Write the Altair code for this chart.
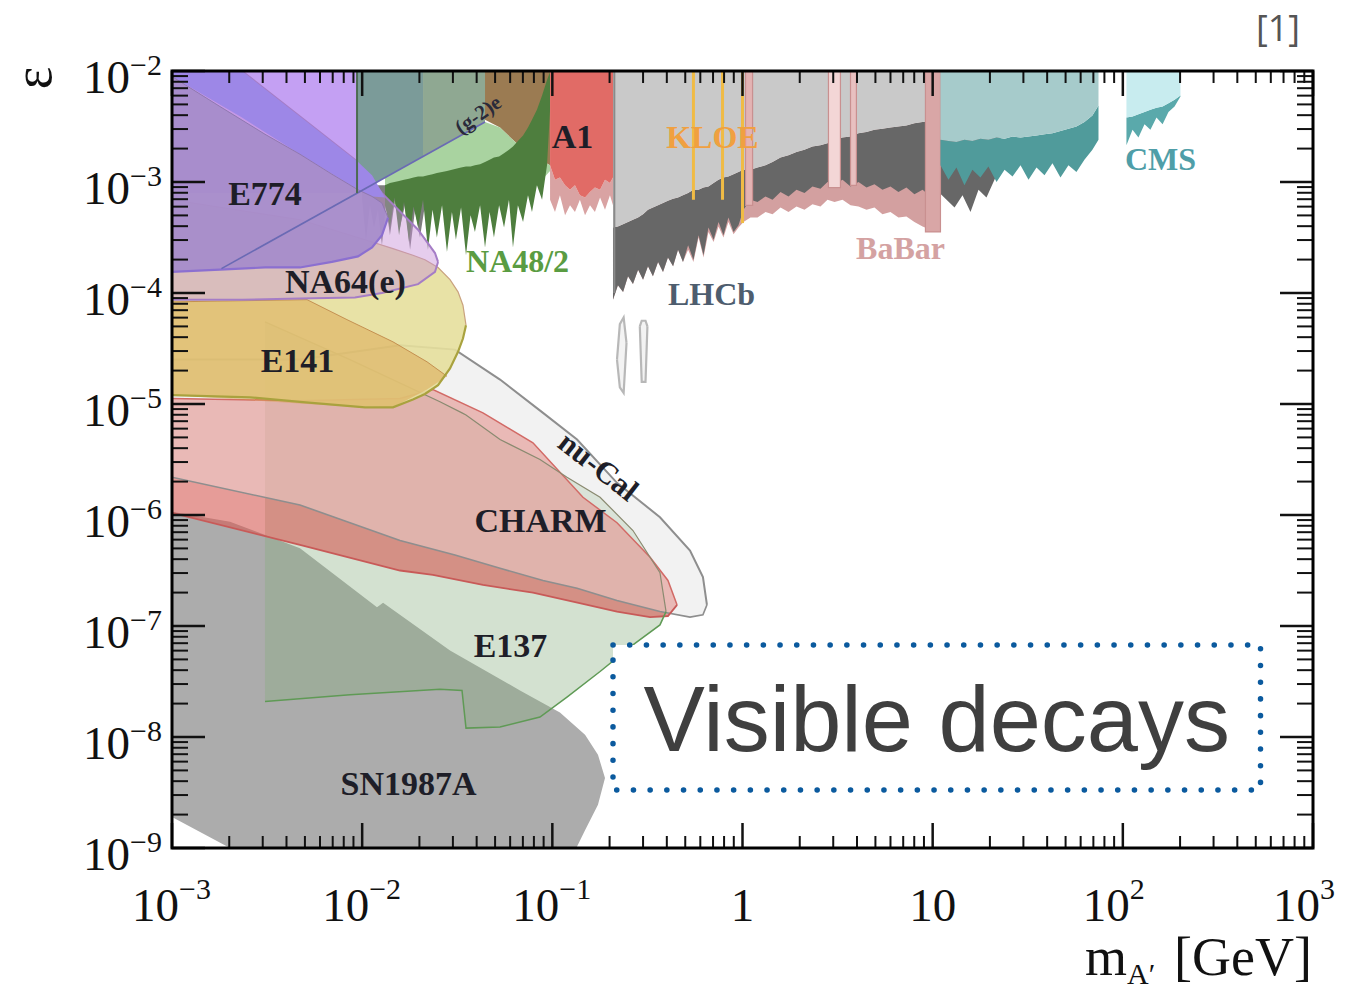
import numpy as np
import pandas as pd
import altair as alt

W, H = 1141, 777
SERIF = "Liberation Serif"

xs = alt.Scale(type="log", domain=[1e-3, 1e3], nice=False)
ys = alt.Scale(type="log", domain=[1e-9, 1e-2], nice=False)

# ---------------- data (log10 m [GeV], log10 eps) ----------------
V_x = [-3.0, -2.02]; V_hi = [-1.9, -1.9]; V_lo = [-3.1, -3.1]
TG1_x = [-2.027, -1.680]; TG1_hi = [-1.9, -1.9]; TG1_lo = [-3.10, -2.77]
TG2_x = [-1.680, -1.354]; TG2_hi = [-1.9, -1.9]; TG2_lo = [-2.77, -2.46]
BR_x = [-1.354, -1.275, -1.170, -1.065, -1.012]
BR_hi = [-1.9, -1.9, -1.9, -1.9, -1.9]
BR_lo = [-2.44, -2.51, -2.68, -2.80, -2.85]
LG_x = [-1.88, -1.354, -1.275, -1.170, -1.065, -1.012]
LG_hi = [-2.96, -2.46, -2.51, -2.68, -2.80, -2.85]
LG_lo = [-3.2, -3.2, -3.2, -3.1, -3.0, -2.9]

GS_x = [-2.000, -1.980, -1.959, -1.938, -1.917, -1.896, -1.875, -1.854, -1.827, -1.801, -1.775, -1.748, -1.722, -1.696, -1.670, -1.643]
GS_hi = [-3.03, -3.03, -3.03, -3.03, -3.03, -3.03, -3.03, -3.03, -3.03, -3.03, -3.03, -3.03, -3.03, -3.03, -3.03, -3.03]
GS_lo = [-3.16, -3.52, -3.21, -3.41, -3.25, -3.57, -3.21, -3.48, -3.16, -3.41, -3.21, -3.61, -3.25, -3.50, -3.21, -3.45]

NA_x = [-1.880, -1.854, -1.830, -1.806, -1.780, -1.754, -1.730, -1.706, -1.680, -1.654, -1.630, -1.607, -1.580, -1.554, -1.528, -1.507, -1.480, -1.454,
        -1.430, -1.407, -1.380, -1.354, -1.330, -1.307, -1.280, -1.254, -1.228, -1.207, -1.181, -1.154, -1.128, -1.107, -1.081, -1.054, -1.028, -1.012]
NA_hi = [-3.03, -3.01, -3.00, -2.99, -2.98, -2.97, -2.96, -2.95, -2.95, -2.94, -2.93, -2.92, -2.91, -2.90, -2.89, -2.88, -2.87, -2.86,
         -2.86, -2.85, -2.84, -2.82, -2.80, -2.78, -2.77, -2.74, -2.71, -2.68, -2.63, -2.58, -2.51, -2.44, -2.35, -2.22, -2.08, -2.01]
NA_lo = [-3.21, -3.41, -3.14, -3.48, -3.18, -3.54, -3.22, -3.41, -3.16, -3.61, -3.25, -3.50, -3.21, -3.63, -3.27, -3.52, -3.23, -3.66,
         -3.30, -3.45, -3.21, -3.59, -3.27, -3.50, -3.21, -3.41, -3.16, -3.59, -3.21, -3.36, -3.12, -3.27, -3.03, -3.16, -2.85, -2.35]

A1_x = [-1.012, -0.986, -0.960, -0.933, -0.907, -0.881, -0.855, -0.828, -0.802, -0.776, -0.749, -0.723, -0.697, -0.681]
A1_lo = [-2.85, -2.98, -2.96, -3.03, -3.07, -3.03, -3.12, -3.14, -3.09, -3.05, -3.07, -2.98, -3.01, -2.96]
A1_pk = [-3.16, -3.27, -3.12, -3.30, -3.21, -3.27, -3.16, -3.30, -3.21, -3.27, -3.14, -3.25, -3.12, -3.21]

LH_x = [-0.681, -0.655, -0.628, -0.602, -0.576, -0.549, -0.523, -0.497, -0.471, -0.444, -0.418, -0.392, -0.365, -0.339, -0.313, -0.286,
        -0.258, -0.231, -0.205, -0.179, -0.152, -0.126, -0.100, -0.074, -0.047, -0.021, 0.005, 0.042, 0.079, 0.121, 0.158, 0.200,
        0.242, 0.284, 0.326, 0.368, 0.410, 0.447, 0.484, 0.526, 0.568, 0.610, 0.652, 0.694, 0.736, 0.778, 0.820, 0.862, 0.904, 0.947, 0.989, 1.031]
LH_top = [-3.41, -3.40, -3.38, -3.36, -3.34, -3.32, -3.29, -3.25, -3.23, -3.21, -3.19, -3.17, -3.15, -3.14, -3.12, -3.10,
          -3.07, -3.07, -3.05, -3.04, -3.01, -2.98, -2.96, -2.95, -2.93, -2.91, -2.89, -2.89, -2.87, -2.85, -2.82, -2.78,
          -2.76, -2.73, -2.71, -2.68, -2.67, -2.65, -2.62, -2.60, -2.59, -2.56, -2.55, -2.53, -2.52, -2.51, -2.50, -2.49, -2.47, -2.46, -2.45, -2.44]
LH_dark = [-4.06, -3.93, -3.99, -3.85, -3.92, -3.79, -3.88, -3.76, -3.85, -3.72, -3.81, -3.68, -3.76, -3.61, -3.72, -3.57,
           -3.70, -3.48, -3.66, -3.41, -3.52, -3.36, -3.48, -3.32, -3.45, -3.39, -3.25, -3.16, -3.18, -3.13, -3.16, -3.09,
           -3.13, -3.07, -3.10, -3.04, -3.06, -3.00, -3.02, -2.98, -3.04, -3.00, -3.05, -3.02, -3.07, -3.04, -3.09, -3.05, -3.11, -3.07, -3.13, -3.09]
BB_lo = [-4.06, -3.93, -3.99, -3.85, -3.92, -3.79, -3.88, -3.76, -3.85, -3.72, -3.81, -3.68, -3.76, -3.61, -3.72, -3.61,
         -3.72, -3.50, -3.68, -3.45, -3.54, -3.40, -3.50, -3.36, -3.47, -3.41, -3.36, -3.32, -3.32, -3.27, -3.29, -3.23,
         -3.27, -3.22, -3.25, -3.20, -3.22, -3.16, -3.18, -3.16, -3.21, -3.22, -3.25, -3.23, -3.29, -3.27, -3.32, -3.31, -3.36, -3.40, -3.43, -3.45]
LH2_x = [1.031, 1.073, 1.115, 1.157, 1.199, 1.241, 1.283, 1.325, 1.357]
LH2_hi = [-2.44, -2.44, -2.44, -2.44, -2.44, -2.44, -2.44, -2.44, -2.44]
LH2_lo = [-3.09, -3.16, -3.23, -3.12, -3.27, -3.07, -3.14, -2.98, -2.85]

TL_x = [1.041, 1.083, 1.125, 1.167, 1.209, 1.251, 1.293, 1.336, 1.378, 1.420, 1.462, 1.504, 1.546, 1.588, 1.630, 1.672, 1.714, 1.756, 1.798, 1.840, 1.872]
TL_light = [-2.62, -2.63, -2.64, -2.62, -2.63, -2.61, -2.62, -2.60, -2.61, -2.59, -2.60, -2.59, -2.58, -2.57, -2.56, -2.54, -2.52, -2.50, -2.46, -2.40, -2.31]
TL_dark = [-2.85, -2.98, -2.87, -3.03, -2.89, -2.96, -2.86, -3.00, -2.89, -2.95, -2.85, -2.98, -2.87, -2.94, -2.83, -2.96, -2.85, -2.91, -2.80, -2.71, -2.62]

CM_x = [2.019, 2.051, 2.082, 2.114, 2.145, 2.177, 2.209, 2.240, 2.272, 2.303]
CM_light = [-2.42, -2.41, -2.39, -2.37, -2.35, -2.33, -2.32, -2.29, -2.26, -2.22]
CM_dark = [-2.67, -2.53, -2.60, -2.48, -2.53, -2.42, -2.48, -2.37, -2.32, -2.23]

STRIP_x1 = [0.016, 0.452, 0.568, 0.962]
STRIP_x2 = [0.053, 0.515, 0.599, 1.041]
STRIP_lo = [-3.21, -3.05, -3.03, -3.45]
STRIP_col = ["#e3b3b3", "#f3d6d6", "#e8c0c0", "#d9a6a6"]
KL_x = [-0.258, -0.105, 0.0]
KL_lo = [-3.16, -3.16, -3.37]

PI1_x = [-0.660, -0.645, -0.625, -0.610]
PI1_hi = [-4.60, -4.28, -4.22, -4.45]
PI1_lo = [-4.60, -4.85, -4.90, -4.45]
PI2_x = [-0.540, -0.530, -0.510, -0.500]
PI2_hi = [-4.30, -4.25, -4.25, -4.30]
PI2_lo = [-4.30, -4.80, -4.80, -4.30]

SN_x = [-3.0, -2.695, -2.327, -1.922, -1.890, -1.538, -1.170, -0.960, -0.828, -0.760, -0.723]
SN_hi = [-5.97, -6.06, -6.30, -6.83, -6.79, -7.22, -7.58, -7.78, -7.98, -8.16, -8.37]
SN_lo = [-8.72, -9.0, -9.3, -9.3, -9.3, -9.3, -9.3, -9.3, -8.84, -8.61, -8.37]

NC_x = [-3.0, -2.327, -1.801, -1.512, -1.275, -1.049, -0.870, -0.660, -0.434, -0.276, -0.208, -0.187]
NC_hi = [-4.60, -4.60, -4.47, -4.51, -4.78, -5.08, -5.32, -5.71, -6.02, -6.32, -6.56, -6.81]
NC_lo = [-5.66, -5.91, -6.23, -6.36, -6.48, -6.59, -6.66, -6.77, -6.87, -6.92, -6.90, -6.81]

CH_x = [-3.0, -2.327, -1.801, -1.628, -1.365, -1.102, -0.839, -0.660, -0.486, -0.392, -0.344]
CH_hi = [-4.95, -4.97, -4.95, -4.87, -5.08, -5.35, -5.84, -6.07, -6.38, -6.59, -6.81]
CH_lo = [-5.98, -6.27, -6.50, -6.54, -6.63, -6.70, -6.80, -6.87, -6.92, -6.91, -6.81]

E137_x = [-2.511, -2.064, -1.591, -1.475, -1.454, -1.275, -1.065, -0.923, -0.749, -0.576, -0.434, -0.402]
E137_hi = [-4.26, -4.60, -4.98, -5.08, -5.10, -5.32, -5.50, -5.66, -5.84, -6.14, -6.52, -6.87]
E137_lo = [-7.68, -7.62, -7.57, -7.58, -7.92, -7.91, -7.82, -7.64, -7.41, -7.17, -6.99, -6.87]

YE_x = [-3.0, -2.590, -2.327, -1.985, -1.838, -1.733, -1.670, -1.601, -1.538, -1.496, -1.470, -1.454]
YE_hi = [-3.16, -3.27, -3.34, -3.52, -3.60, -3.66, -3.70, -3.77, -3.88, -3.99, -4.11, -4.29]
YE_lo = [-4.92, -4.94, -4.98, -5.03, -5.03, -4.96, -4.91, -4.83, -4.68, -4.53, -4.41, -4.29]

TAN_x = [-3.0, -2.290, -2.185, -2.080, -1.838, -1.659, -1.554]
TAN_hi = [-4.08, -4.06, -4.15, -4.24, -4.44, -4.62, -4.75]
TAN_lo = [-4.92, -5.00, -5.01, -5.02, -5.03, -4.87, -4.75]

N64_x = [-3.0, -2.632, -2.327, -2.038, -1.896, -1.706, -1.617, -1.601]
N64_hi = [-1.5, -2.0, -2.41, -2.80, -3.10, -3.43, -3.64, -3.72]
N64_lo = [-4.06, -4.06, -4.05, -4.04, -4.00, -3.92, -3.81, -3.72]

BB2_x = [-3.0, -2.632, -2.327, -2.022, -1.948, -1.880]
BB2_hi = [-1.5, -2.0, -2.41, -2.82, -2.94, -3.14]
BB2_lo = [-2.05, -2.42, -2.75, -3.07, -3.13, -3.14]

E774_x = [-3.0, -2.748, -2.511, -2.327, -2.159, -2.022, -1.948, -1.896, -1.864]
E774_hi = [-2.05, -2.32, -2.57, -2.75, -2.93, -3.07, -3.13, -3.19, -3.32]
E774_lo = [-3.81, -3.79, -3.77, -3.77, -3.72, -3.67, -3.59, -3.48, -3.32]

G2_x = [-2.74, -1.354]
G2_y = [-3.78, -2.46]

LAB_text = ["E774", "NA64(e)", "E141", "CHARM", "E137", "SN1987A", "nu-Cal", "NA48/2", "A1", "KLOE", "LHCb", "BaBar", "CMS", "(g-2)e"]
LAB_x = [-2.511, -2.088, -2.340, -1.062, -1.220, -1.756, -0.762, -1.183, -0.894, -0.158, -0.163, 0.831, 2.198, -1.388]
LAB_y = [-3.12, -3.91, -4.62, -6.06, -7.19, -8.43, -5.57, -3.72, -2.60, -2.60, -4.02, -3.60, -2.80, -2.40]
LAB_col = ["#1e1e28", "#1e1e28", "#1e1e28", "#1e1e28", "#1e1e28", "#1e1e28", "#1e1e28", "#5a9c42", "#1e1e28", "#f0a040", "#4e5d6e", "#d4a2a2", "#4f9ea8", "#2a2a3a"]
LAB_size = [34, 34, 34, 34, 34, 34, 31, 32, 34, 32, 32, 32, 32, 21]
LAB_angle = [0, 0, 0, 0, 0, 0, 38, 0, 0, 0, 0, 0, 0, 325]

XLAB_pow = [-3, -2, -1, 2, 3]
XLAB_exp = ["\u22123", "\u22122", "\u22121", "2", "3"]
XLAB_plain = [1.0, 10.0]
XLAB_plain_t = ["1", "10"]
YLAB_pow = [-2, -3, -4, -5, -6, -7, -8, -9]

BOX_x = [-0.681, 2.724]
BOX_y = [-7.171, -8.477]

# ---------------- helpers ----------------
X = lambda f="m": alt.X(f"{f}:Q", scale=xs, axis=None)
Y = lambda f: alt.Y(f"{f}:Q", scale=ys, axis=None, stack=None)


def band(lx, hi, lo):
    lx, hi, lo = np.asarray(lx, float), np.asarray(hi, float), np.asarray(lo, float)
    assert len(lx) == len(hi) == len(lo)
    return pd.DataFrame({"m": 10 ** lx, "hi": 10 ** hi, "lo": 10 ** lo})


def area(df, color, opacity=1.0):
    return alt.Chart(df).mark_area(color=color, opacity=opacity, clip=True, interpolate="linear").encode(
        x=X(), y=Y("hi"), y2="lo:Q")


def edge(df, field, color, width=1.5, opacity=1.0):
    return alt.Chart(df).mark_line(color=color, strokeWidth=width, opacity=opacity, clip=True).encode(
        x=X(), y=Y(field))


layers = []
# top-left / top-middle backgrounds
layers.append(area(band(V_x, V_hi, V_lo), "#c4a0f3"))
layers.append(area(band(TG1_x, TG1_hi, TG1_lo), "#7b9b99"))
layers.append(area(band(TG2_x, TG2_hi, TG2_lo), "#8fa892"))
layers.append(area(band(BR_x, BR_hi, BR_lo), "#9b7b52"))
layers.append(area(band(LG_x, LG_hi, LG_lo), "#a9d3a0"))
layers.append(area(band(GS_x, GS_hi, GS_lo), "#7d7d7d"))
layers.append(area(band(NA_x, NA_hi, NA_lo), "#4e7e3e"))
layers.append(area(band(A1_x, A1_lo, A1_pk), "#d9a3a3"))
layers.append(area(band(A1_x, [-1.9] * len(A1_x), A1_lo), "#e16b66"))
lh = band(LH_x, LH_top, LH_dark)
lh["pk"] = 10 ** np.asarray(BB_lo)
layers.append(alt.Chart(lh).mark_area(color="#d3a0a0", clip=True).encode(x=X(), y=Y("hi"), y2="pk:Q"))
layers.append(area(lh, "#676767"))
layers.append(area(band(LH_x, [-1.9] * len(LH_x), LH_top), "#c9c9c9"))
layers.append(area(band(LH2_x, LH2_hi, LH2_lo), "#676767"))
strips = pd.DataFrame({"x1": 10 ** np.asarray(STRIP_x1), "x2": 10 ** np.asarray(STRIP_x2),
                       "lo": 10 ** np.asarray(STRIP_lo), "top": [1e-2] * 4, "c": STRIP_col})
layers.append(alt.Chart(strips).mark_rect(stroke="#c99090", strokeWidth=1.2, clip=True).encode(
    x=X("x1"), x2="x2:Q", y=Y("top"), y2="lo:Q", fill=alt.Fill("c:N", scale=None)))
kl = pd.DataFrame({"m": 10 ** np.asarray(KL_x), "lo": 10 ** np.asarray(KL_lo), "top": [1e-2] * 3})
layers.append(alt.Chart(kl).mark_rule(color="#f0bb45", strokeWidth=3, clip=True).encode(x=X(), y=Y("top"), y2="lo:Q"))
lhe = pd.DataFrame({"m": [10 ** -0.674], "top": [1e-2], "lo": [10 ** -4.0]})
layers.append(alt.Chart(lhe).mark_rule(color="#8a8a8a", strokeWidth=2, clip=True).encode(x=X(), y=Y("top"), y2="lo:Q"))
layers.append(area(band(TL_x, TL_light, TL_dark), "#509b9b"))
layers.append(area(band(TL_x, [-1.9] * len(TL_x), TL_light), "#a6cbcb"))
layers.append(area(band(CM_x, CM_light, CM_dark), "#5aa9ab"))
layers.append(area(band(CM_x, [-1.9] * len(CM_x), CM_light), "#c8ecef"))
for px_, ph_, pl_ in ((PI1_x, PI1_hi, PI1_lo), (PI2_x, PI2_hi, PI2_lo)):
    pdf = band(px_, ph_, pl_)
    layers.append(area(pdf, "#f3f3f3"))
    layers += [edge(pdf, "hi", "#b8b8b8", 2.2), edge(pdf, "lo", "#b8b8b8", 2.2)]

# beam-dump / astro regions
sn = band(SN_x, SN_hi, SN_lo)
layers.append(area(sn, "#acacac"))
nc = band(NC_x, NC_hi, NC_lo)
layers.append(area(nc, "#ebebeb"))
e137 = band(E137_x, E137_hi, E137_lo)
layers.append(area(e137, "#85ad7c", 0.36))
ch = band(CH_x, CH_hi, CH_lo)
layers.append(area(ch, "#d65a54", 0.6))
layers.append(area(nc, "#ffffff", 0.35))
layers += [edge(nc, "hi", "#8e8e8e", 2), edge(nc, "lo", "#8e8e8e", 1.6)]
layers += [edge(ch, "hi", "#d26a66", 1.5), edge(ch, "lo", "#c85a58", 1.8)]
layers += [edge(e137, "hi", "#8a8a70", 1.2), edge(e137, "lo", "#5f9a55", 1.5)]

ye = band(YE_x, YE_hi, YE_lo)
layers.append(area(ye, "#e6df9c", 0.9))
tan = band(TAN_x, TAN_hi, TAN_lo)
layers.append(area(tan, "#d8993e", 0.42))
layers += [edge(tan, "hi", "#c49050", 1.0), edge(ye, "hi", "#c9a27e", 1.2), edge(ye, "lo", "#a9a23e", 2.2)]

n64 = band(N64_x, N64_hi, N64_lo)
layers.append(area(n64, "#c890d8", 0.45))
layers += [edge(n64, "hi", "#a57dc6", 2), edge(n64, "lo", "#a57dc6", 2)]
layers.append(area(band(BB2_x, BB2_hi, BB2_lo), "#9d87e7"))
e774 = band(E774_x, E774_hi, E774_lo)
layers.append(area(e774, "#a68cca", 0.95))
layers += [edge(e774, "hi", "#8f78b0", 1.0), edge(e774, "lo", "#8b6fd0", 2.2)]
g2 = pd.DataFrame({"m": 10 ** np.asarray(G2_x), "hi": 10 ** np.asarray(G2_y)})
layers.append(edge(g2, "hi", "#6a6ab4", 1.6))
tge = pd.DataFrame({"m": [10 ** -2.027], "top": [1e-2], "lo": [10 ** -3.10]})
layers.append(alt.Chart(tge).mark_rule(color="#4d6b52", strokeWidth=2, clip=True).encode(x=X(), y=Y("top"), y2="lo:Q"))

# region labels
lab = pd.DataFrame({"t": LAB_text, "m": 10 ** np.asarray(LAB_x), "e": 10 ** np.asarray(LAB_y),
                    "c": LAB_col, "s": LAB_size, "a": LAB_angle})
layers.append(alt.Chart(lab).mark_text(font=SERIF, fontWeight="bold", baseline="middle", align="center").encode(
    x=X(), y=Y("e"), text="t:N", color=alt.Color("c:N", scale=None),
    size=alt.Size("s:Q", scale=None), angle=alt.Angle("a:Q", scale=None)))

# "Visible decays" box
box = pd.DataFrame({"x1": [10 ** BOX_x[0]], "x2": [10 ** BOX_x[1]], "y1": [10 ** BOX_y[0]], "y2": [10 ** BOX_y[1]]})
layers.append(alt.Chart(box).mark_rect(fill="white", stroke="#0b5a9e", strokeWidth=5.5,
                                       strokeDash=[0.1, 16.6], strokeCap="round").encode(
    x=X("x1"), x2="x2:Q", y=Y("y1"), y2="y2:Q"))
boxt = pd.DataFrame({"t": ["Visible decays"], "m": [10 ** ((BOX_x[0] + BOX_x[1]) / 2)],
                     "e": [10 ** ((BOX_y[0] + BOX_y[1]) / 2)]})
layers.append(alt.Chart(boxt).mark_text(font="Liberation Sans", fontSize=92, color="#3f3f3f",
                                        align="center", baseline="alphabetic", dy=34).encode(
    x=X(), y=Y("e"), text="t:N"))

# ticks (inward) and frame
xmaj = [10.0 ** k for k in range(-3, 4)]
xmin = [j * 10.0 ** k for k in range(-3, 3) for j in range(2, 10)]
ymaj = [10.0 ** k for k in range(-9, -1)]
ymin = [j * 10.0 ** k for k in range(-9, -2) for j in range(2, 10)]


def xt(vals, ln, w, top):
    d = pd.DataFrame({"v": vals})
    yy = (alt.value(0), alt.value(ln)) if top else (alt.value(H), alt.value(H - ln))
    return alt.Chart(d).mark_rule(color="#111111", strokeWidth=w).encode(x=X("v"), y=yy[0], y2=yy[1])


def yt(vals, ln, w, right):
    d = pd.DataFrame({"v": vals})
    xx = (alt.value(W), alt.value(W - ln)) if right else (alt.value(0), alt.value(ln))
    return alt.Chart(d).mark_rule(color="#111111", strokeWidth=w).encode(y=Y("v"), x=xx[0], x2=xx[1])


layers += [xt(xmaj, 25, 2.5, False), xt(xmin, 12, 2, False), xt(xmaj, 25, 2.5, True), xt(xmin, 12, 2, True),
           yt(ymaj, 33, 2.5, False), yt(ymin, 16, 2, False), yt(ymaj, 33, 2.5, True), yt(ymin, 16, 2, True)]
layers.append(alt.Chart(pd.DataFrame({"a": [0]})).mark_rect(fillOpacity=0, stroke="black", strokeWidth=3).encode(
    x=alt.value(0), x2=alt.value(W), y=alt.value(0), y2=alt.value(H)))

# axis labels
xl = pd.DataFrame({"v": [10.0 ** p for p in XLAB_pow], "b": ["10"] * len(XLAB_pow), "e": XLAB_exp})
layers.append(alt.Chart(xl).mark_text(font=SERIF, fontSize=47, color="#111111", align="right", dx=7,
                                      baseline="alphabetic").encode(x=X("v"), y=alt.value(850), text="b:N"))
layers.append(alt.Chart(xl).mark_text(font=SERIF, fontSize=30, color="#111111", align="left", dx=7,
                                      baseline="alphabetic").encode(x=X("v"), y=alt.value(828), text="e:N"))
xp = pd.DataFrame({"v": XLAB_plain, "b": XLAB_plain_t})
layers.append(alt.Chart(xp).mark_text(font=SERIF, fontSize=47, color="#111111", align="center",
                                      baseline="alphabetic").encode(x=X("v"), y=alt.value(850), text="b:N"))
yl = pd.DataFrame({"v": [10.0 ** p for p in YLAB_pow], "b": ["10"] * len(YLAB_pow),
                   "e": ["\u2212" + str(-p) for p in YLAB_pow]})
layers.append(alt.Chart(yl).mark_text(font=SERIF, fontSize=47, color="#111111", align="right", dy=22,
                                      baseline="alphabetic").encode(y=Y("v"), x=alt.value(-42), text="b:N"))
layers.append(alt.Chart(yl).mark_text(font=SERIF, fontSize=30, color="#111111", align="left", dy=4,
                                      baseline="alphabetic").encode(y=Y("v"), x=alt.value(-42), text="e:N"))

one = pd.DataFrame({"a": [0]})
def txt(t, x, y, size, align="left", font=SERIF, color="#111111", angle=0, baseline="alphabetic"):
    return alt.Chart(one).mark_text(text=t, font=font, fontSize=size, color=color, align=align,
                                    angle=angle, baseline=baseline).encode(x=alt.value(x), y=alt.value(y))

layers.append(txt("m", 913, 904, 54))
layers.append(txt("A\u2032", 955, 913, 30))
layers.append(txt("[GeV]", 1140, 904, 54, align="right"))
layers.append(txt("\u03b5", -137, 7, 54, align="center", angle=270, baseline="middle"))
layers.append(txt("[1]", 1106, -41, 36, align="center", font="Open Sans", color="#555555", baseline="middle"))

chart = alt.layer(*layers).properties(
    width=W, height=H,
    padding={"left": 172, "top": 71, "right": 32, "bottom": 144},
    autosize=alt.AutoSizeParams(type="none"),
).configure_view(strokeWidth=0)

chart.save("out.html", embed_options={"renderer": "svg", "actions": False})
